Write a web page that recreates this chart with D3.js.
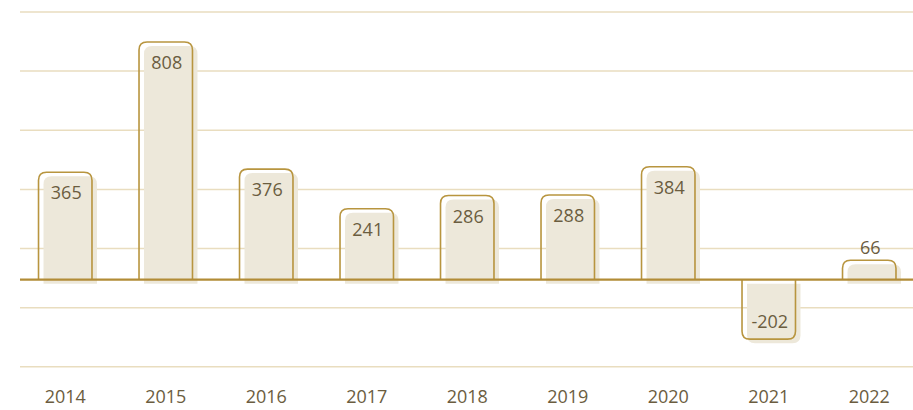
<!doctype html>
<html>
  <head>
    <meta charset="utf-8" />
    <title>Annual results 2014-2022</title>
    <style>
      body {
        margin: 0;
        background: #fff;
      }
      svg text {
        font-family: 'Open Sans', sans-serif;
        fill: #6b5d3f;
      }
    </style>
  </head>
  <body>
    <svg id="chart" width="913" height="410"></svg>

    <script src="https://d3js.org/d3.v7.min.js"></script>
    <script>
      // data
      const years = ['2014', '2015', '2016', '2017', '2018', '2019', '2020', '2021', '2022'];
      const values = [365, 808, 376, 241, 286, 288, 384, -202, 66];
      // light horizontal guides (value units, not aligned with zero in the original)
      const gridValues = [-296, -95, 106, 307, 508, 709, 910];

      const width = 913;
      const height = 410;
      const svg = d3.select('#chart');

      const x = d3
        .scaleBand()
        .domain(years)
        .range([15, 919.5])
        .paddingInner(0.468)
        .paddingOuter(0.234);

      const y = d3.scaleLinear().domain([-300, 920]).range([368, 9]);

      // grid lines
      svg
        .append('g')
        .selectAll('line')
        .data(gridValues)
        .join('line')
        .attr('x1', 20)
        .attr('x2', width)
        .attr('y1', (d) => y(d))
        .attr('y2', (d) => y(d))
        .attr('stroke', '#e9ddbf')
        .attr('stroke-width', 1.5);

      // bar outline: rounded on the end away from zero
      function barPath(x0, w, v, r) {
        const y0 = y(0);
        const y1 = y(v);
        const h = Math.abs(y1 - y0);
        const rr = Math.min(r, h, w / 2);
        if (v >= 0) {
          return `M${x0},${y0}V${y1 + rr}Q${x0},${y1} ${x0 + rr},${y1}H${x0 + w - rr}Q${x0 + w},${y1} ${x0 + w},${y1 + rr}V${y0}`;
        }
        return `M${x0},${y0}V${y1 - rr}Q${x0},${y1} ${x0 + rr},${y1}H${x0 + w - rr}Q${x0 + w},${y1} ${x0 + w},${y1 - rr}V${y0}`;
      }

      const data = years.map((yr, i) => ({ year: yr, value: values[i] }));

      // beige fill, shifted right/down like a soft shadow
      svg
        .append('g')
        .selectAll('path')
        .data(data)
        .join('path')
        .attr('transform', 'translate(5,4)')
        .attr('d', (d) => barPath(x(d.year), x.bandwidth(), d.value, 8) + 'Z')
        .attr('fill', '#ede8da');

      // gold outlines
      svg
        .append('g')
        .selectAll('path')
        .data(data)
        .join('path')
        .attr('d', (d) => barPath(x(d.year), x.bandwidth(), d.value, 8))
        .attr('fill', 'none')
        .attr('stroke', '#b8953f')
        .attr('stroke-width', 1.6);

      // zero line
      svg
        .append('line')
        .attr('x1', 20)
        .attr('x2', width)
        .attr('y1', y(0))
        .attr('y2', y(0))
        .attr('stroke', '#b28c37')
        .attr('stroke-width', 2.2);

      // value labels
      svg
        .append('g')
        .selectAll('text')
        .data(data)
        .join('text')
        .attr('x', (d) => x(d.year) + x.bandwidth() / 2 + 1)
        .attr('y', (d) => {
          const h = Math.abs(y(d.value) - y(0));
          if (d.value < 0) return y(d.value) - 18;
          if (h < 40) return y(d.value) - 13;
          return y(d.value) + 20;
        })
        .attr('text-anchor', 'middle')
        .attr('dominant-baseline', 'central')
        .attr('font-size', 18)
        .text((d) => d.value);

      // year axis
      const axis = svg
        .append('g')
        .attr('transform', `translate(0,${height - 13})`)
        .call(d3.axisBottom(x).tickSize(0).tickPadding(0));
      axis.select('.domain').remove();
      axis
        .selectAll('text')
        .attr('dy', '0.32em')
        .attr('y', 0)
        .style('font-family', "'Open Sans', sans-serif")
        .style('font-size', '18px')
        .style('fill', '#6b5d3f');
    </script>
  </body>
</html>
